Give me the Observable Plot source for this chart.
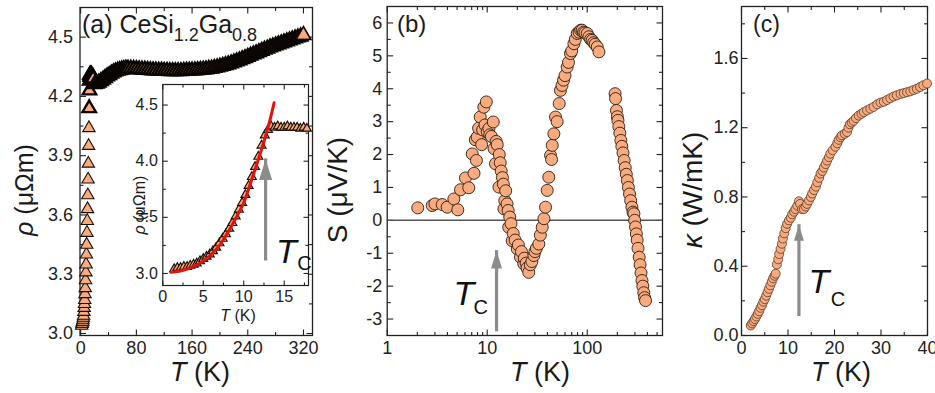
<!DOCTYPE html>
<html><head><meta charset="utf-8">
<script src="https://cdn.jsdelivr.net/npm/d3@7"></script>
<script src="https://cdn.jsdelivr.net/npm/@observablehq/plot@0.6"></script>
<style>
html,body{margin:0;padding:0;background:#fff;}
#fig{position:relative;width:935px;height:393px;overflow:hidden;font-family:"Liberation Sans",Arial,Helvetica,sans-serif;color:#1a1a1a;background:#fff;}
.lab{position:absolute;white-space:nowrap;line-height:1;}
.c{transform:translate(-50%,-50%);}
.r{transform:translate(-50%,-50%) rotate(-90deg);}
.sb{font-size:0.72em;position:relative;top:0.42em;}
i{font-style:italic;}
</style></head><body><div id="fig"></div>
<script>
// ---------- data ----------
// (a) inset / low-T resistivity (T in K, rho in micro-ohm m)
const inT   = [1.4,1.8,2.2,2.6,3.0,3.4,3.8,4.2,4.6,5.0,5.4,5.8,6.2,6.6,7.0,7.4,7.8,8.2,8.6,9.0,9.4,9.8,10.2,10.6,11.0,11.4,11.8,12.2,12.6,13.0,13.4,13.8,14.2,14.6,15.0,15.4,15.8,16.2,16.6,17.0,17.4,17.8];
const inRho = [3.04,3.05,3.05,3.06,3.06,3.07,3.08,3.09,3.11,3.13,3.15,3.17,3.20,3.23,3.27,3.31,3.35,3.40,3.45,3.51,3.57,3.63,3.70,3.78,3.86,3.95,4.04,4.14,4.23,4.28,4.31,4.30,4.31,4.30,4.30,4.31,4.30,4.30,4.30,4.29,4.30,4.29];
// (a) fit curve in inset
const fitT   = [1,2,3,4,5,6,7,8,9,10,11,12,13,13.75];
const fitRho = [3.01,3.02,3.04,3.07,3.11,3.17,3.25,3.36,3.49,3.63,3.84,4.06,4.30,4.52];
// (a) high-T resistivity
const hiT   = [20,23,26,29,32,35,38,41,44,47,50,53,56,59,62,65,68,72,76,80,84,88,92,96,100,104,108,112,116,120,124,128,132,136,140,144,148,152,156,160,164,168,172,176,180,184,188,192,196,200,204,208,212,216,220,224,228,232,236,240,244,248,252,256,260,264,268,272,276,280,284,288,292,296,300,304,308,312,316,320];
const hiRho = [4.262,4.265,4.27,4.277,4.285,4.293,4.301,4.308,4.315,4.321,4.326,4.330,4.333,4.336,4.338,4.340,4.340,4.340,4.339,4.338,4.337,4.336,4.335,4.334,4.333,4.332,4.331,4.330,4.330,4.329,4.329,4.328,4.328,4.328,4.328,4.328,4.329,4.330,4.330,4.331,4.332,4.333,4.334,4.335,4.337,4.339,4.341,4.344,4.347,4.350,4.354,4.358,4.362,4.367,4.372,4.377,4.382,4.388,4.394,4.400,4.406,4.412,4.418,4.424,4.430,4.436,4.442,4.448,4.453,4.458,4.463,4.468,4.473,4.478,4.483,4.488,4.493,4.498,4.503,4.510];
// (b) thermopower S (microV/K)
const bT = [2.02,2.82,3.0,3.55,3.98,4.64,5.08,5.41,6.06,6.54,7.08,7.38,7.6,7.8,7.94,8.2,8.51,8.8,9.0,9.26,9.5,9.8,10.0,10.4,10.6,11.0,11.5,11.7,12.1,12.3,12.6,13.1,13.2,13.5,13.8,14.2,14.5,14.7,15.0,15.3,15.8,16.2,16.4,16.8,17.3,17.8,18.2,19,20,20.5,21.5,22,23.2,23.5,24.5,25,26,27,28,29.3,30,31,32.8,34,35.5,36.9,38.3,39.8,41.3,43,44,44.7,46.4,48.2,50,52.5,54,56,58,60,63,65,68,70,73.6,76,79.4,83,86,89,92,95,100,104,108,112,116,120,126,131,190,192,196,200,203,207,212,217,222,228,234,240,246,252,258,265,272,280,287,293,298,304,310,316,322,331,338,345,353,360,368,375,383];
const bS = [0.38,0.45,0.5,0.48,0.40,0.65,0.32,0.93,1.29,0.99,2.02,1.43,2.45,1.82,2.53,2.8,3.14,2.3,2.75,3.44,2.9,3.6,2.7,2.79,2.6,2.55,2.99,2.18,1.72,2.4,2.3,1.01,2.0,1.75,1.5,1.3,1.1,0.35,0.6,0.9,0.5,0.3,-0.21,0.1,-0.1,-0.62,-0.4,-0.6,-0.87,-0.75,-1.12,-0.95,-1.32,-1.15,-1.3,-1.45,-1.58,-1.35,-1.25,-1.07,-0.95,-0.85,-0.72,-0.45,-0.21,0.05,0.4,0.91,1.31,1.97,1.85,2.28,2.63,3.14,3.0,3.55,3.95,4.1,4.26,4.4,4.66,4.8,5.07,5.15,5.37,5.5,5.68,5.72,5.78,5.78,5.72,5.7,5.68,5.58,5.5,5.47,5.4,5.35,5.27,5.12,3.85,3.7,3.34,3.15,3.04,2.85,2.65,2.43,2.25,2.05,1.82,1.6,1.4,1.21,1.0,0.8,0.6,0.4,0.25,0.2,0.0,-0.2,-0.41,-0.6,-0.85,-1.12,-1.35,-1.6,-1.83,-2.0,-2.2,-2.35,-2.44];
// (c) thermal conductivity kappa (W/mK)
const cT = [2.0,2.3,2.6,2.9,3.2,3.5,3.8,4.1,4.4,4.7,5.0,5.3,5.6,5.9,6.2,6.5,6.8,7.1,7.35,7.6,7.9,8.1,8.4,8.7,8.9,9.2,9.5,9.8,10.2,10.6,10.9,11.3,11.6,12.0,12.35,12.6,13.0,13.4,13.8,14.1,14.5,14.9,15.2,15.6,16.0,16.3,16.7,17.0,17.4,17.7,18.1,18.4,18.8,19.1,19.6,20.2,20.6,20.9,21.3,21.6,22.2,22.7,23.0,23.3,23.7,24.1,24.6,25.2,25.8,26.3,27.0,27.7,28.4,29.2,29.9,30.6,31.3,32.0,32.7,33.4,34.2,34.9,35.6,36.3,37.0,37.7,38.4,39.1,39.9];
const cK = [0.058,0.07,0.083,0.095,0.11,0.125,0.14,0.16,0.175,0.195,0.21,0.23,0.25,0.27,0.29,0.31,0.33,0.345,0.357,0.41,0.44,0.47,0.50,0.53,0.56,0.59,0.62,0.645,0.665,0.68,0.70,0.715,0.73,0.75,0.775,0.76,0.73,0.73,0.745,0.76,0.78,0.80,0.82,0.84,0.86,0.885,0.91,0.935,0.95,0.97,0.99,1.01,1.03,1.05,1.07,1.09,1.11,1.13,1.145,1.156,1.165,1.175,1.20,1.22,1.23,1.24,1.255,1.27,1.28,1.29,1.30,1.31,1.32,1.335,1.345,1.35,1.36,1.37,1.38,1.387,1.395,1.40,1.405,1.41,1.418,1.425,1.435,1.445,1.455];
// T_C annotations: arrow x, arrow bottom, arrow tip
const tcInset = [{x: 12.7, lo: 3.28, hi: 4.02}];
const tcB     = [{x: 12.4, lo: -2.9, hi: -0.92}];
const tcC     = [{x: 12.35, lo: 0.19, hi: 0.64}];
// T_C label anchors (T glyph, C subscript)
const tcInsetLab = [{x: 14.0, y: 3.09, sx: 16.6, sy: 3.03}];
const tcBLab     = [{x: 4.6, y: -2.57, sx: 7.3, sy: -2.85}];
const tcCLab     = [{x: 14.4, y: 0.243, sx: 19.2, sy: 0.173}];

// ---------- helpers ----------
const FONT = "'Liberation Sans', Arial, Helvetica, sans-serif";
const PEACH = "#F8AB7E", EDGE = "#2e1c12", INK = "#222", GRAY = "#8c8c8c", RED = "#e3120b";
const zip = (xs, ys, kx, ky) => xs.map((v, i) => ({[kx]: v, [ky]: ys[i]}));
const seg = (dx, dy) => ({draw(ctx) { ctx.moveTo(0, 0); ctx.lineTo(dx, dy); }});
const head = (w, h) => ({draw(ctx) { ctx.moveTo(0, 0); ctx.lineTo(-w / 2, h); ctx.lineTo(w / 2, h); ctx.closePath(); }});
function frameTicks(xd, yd, xMaj, xMin, yMaj, yMin, L = 6, l = 3.5) {
  const o = {stroke: INK, strokeWidth: 1.1, fill: "none"};
  return [
    Plot.dot(xMaj, {x: d => d, y: yd[0], symbol: seg(0, -L), ...o}),
    Plot.dot(xMaj, {x: d => d, y: yd[1], symbol: seg(0, L), ...o}),
    Plot.dot(xMin, {x: d => d, y: yd[0], symbol: seg(0, -l), ...o}),
    Plot.dot(xMin, {x: d => d, y: yd[1], symbol: seg(0, l), ...o}),
    Plot.dot(yMaj, {x: xd[0], y: d => d, symbol: seg(L, 0), ...o}),
    Plot.dot(yMaj, {x: xd[1], y: d => d, symbol: seg(-L, 0), ...o}),
    Plot.dot(yMin, {x: xd[0], y: d => d, symbol: seg(l, 0), ...o}),
    Plot.dot(yMin, {x: xd[1], y: d => d, symbol: seg(-l, 0), ...o})
  ];
}
function tcMarks(arrow, lab, big, small, headW, headH) {
  return [
    Plot.ruleX(arrow, {x: "x", y1: "lo", y2: "hi", stroke: GRAY, strokeWidth: 3.2, insetTop: headH - 2}),
    Plot.dot(arrow, {x: "x", y: "hi", symbol: head(headW, headH), fill: GRAY, stroke: "none"}),
    Plot.text(lab, {x: "x", y: "y", text: () => "T", fontSize: big, fontStyle: "italic", textAnchor: "start", lineAnchor: "bottom", fill: "#111"}),
    Plot.text(lab, {x: "sx", y: "sy", text: () => "C", fontSize: small, textAnchor: "start", lineAnchor: "bottom", fill: "#111"})
  ];
}
const baseStyle = (fs) => ({background: "transparent", fontFamily: FONT, fontSize: fs + "px", color: INK, overflow: "visible"});
const fig = document.getElementById("fig");
function place(el, left, top) { el.style.position = "absolute"; el.style.left = left + "px"; el.style.top = top + "px"; fig.appendChild(el); }
function label(html, x, y, fs, cls) { const d = document.createElement("div"); d.className = "lab " + cls; d.style.left = x + "px"; d.style.top = y + "px"; d.style.fontSize = fs + "px"; d.innerHTML = html; fig.appendChild(d); }
const f1 = d => d.toFixed(1), fi = d => String(d);

// ---------- panel (a) main ----------
const aX = [-1, 333], aY = [2.99, 4.65];
const lowA = zip(inT, inRho, "T", "rho").filter(d => d.T < 13);
const bandA = zip(inT, inRho, "T", "rho").filter(d => d.T >= 12.2).concat(zip(hiT, hiRho, "T", "rho"));
place(Plot.plot({
  width: 320, height: 393, marginLeft: 79.5, marginRight: 8, marginTop: 7, marginBottom: 58,
  x: {domain: aX}, y: {domain: aY}, style: baseStyle(18),
  marks: [
    Plot.frame({stroke: INK, strokeWidth: 1.3}),
    ...frameTicks(aX, aY, [0, 80, 160, 240, 320], [40, 120, 200, 280], [3.0, 3.3, 3.6, 3.9, 4.2, 4.5], [3.15, 3.45, 3.75, 4.05, 4.35]),
    Plot.axisX({ticks: [0, 80, 160, 240, 320], tickSize: 0, tickPadding: 6, tickFormat: fi, label: null}),
    Plot.axisY({ticks: [3.0, 3.3, 3.6, 3.9, 4.2, 4.5], tickSize: 0, tickPadding: 7, tickFormat: f1, label: null}),
    Plot.dot(lowA, {x: "T", y: "rho", symbol: "triangle", r: 4.6, fill: PEACH, stroke: "#1a100a", strokeWidth: 1.1}),
    Plot.dot(bandA, {x: "T", y: "rho", symbol: "triangle", r: 5, fill: PEACH, stroke: "#0a0604", strokeWidth: 2.4}),
    Plot.dot(bandA.slice(-1), {x: "T", y: "rho", symbol: "triangle", r: 5, fill: PEACH, stroke: "#1a100a", strokeWidth: 1})
  ]
}), 0, 0);

// ---------- panel (a) inset ----------
const iX = [0, 18], iY = [2.893, 4.683];
place(Plot.plot({
  width: 195, height: 260, marginLeft: 42.3, marginRight: 7, marginTop: 14, marginBottom: 45,
  x: {domain: iX}, y: {domain: iY}, style: baseStyle(16),
  marks: [
    Plot.frame({fill: "white", stroke: INK, strokeWidth: 1.2}),
    ...frameTicks(iX, iY, [0, 5, 10, 15], [2.5, 7.5, 12.5, 17.5], [3.0, 3.5, 4.0, 4.5], [3.25, 3.75, 4.25], 5, 3),
    Plot.axisX({ticks: [0, 5, 10, 15], tickSize: 0, tickPadding: 5, tickFormat: fi, label: null}),
    Plot.axisY({ticks: [3.0, 3.5, 4.0, 4.5], tickSize: 0, tickPadding: 5, tickFormat: f1, label: null}),
    Plot.dot(zip(inT, inRho, "T", "rho"), {x: "T", y: "rho", symbol: "triangle", r: 3.3, fill: PEACH, stroke: "#1a100a", strokeWidth: 1.2}),
    Plot.line(zip(fitT, fitRho, "T", "rho"), {x: "T", y: "rho", stroke: RED, strokeWidth: 3, curve: "catmull-rom"}),
    ...tcMarks(tcInset, tcInsetLab, 34, 20, 13, 21)
  ]
}), 120, 70);

// ---------- panel (b) ----------
const bX = [1, 566], bY = [-3.5, 6.5];
const minorLog = [2,3,4,5,6,7,8,9,20,30,40,50,60,70,80,90,200,300,400,500];
place(Plot.plot({
  width: 360, height: 393, marginLeft: 76.7, marginRight: 8, marginTop: 6, marginBottom: 58,
  x: {type: "log", domain: bX}, y: {domain: bY}, style: baseStyle(18),
  marks: [
    Plot.frame({stroke: INK, strokeWidth: 1.3}),
    ...frameTicks(bX, bY, [1, 10, 100], minorLog, [-3,-2,-1,0,1,2,3,4,5,6], [-2.5,-1.5,-0.5,0.5,1.5,2.5,3.5,4.5,5.5]),
    Plot.axisX({ticks: [1, 10, 100], tickSize: 0, tickPadding: 6, tickFormat: fi, label: null}),
    Plot.axisY({ticks: [-3,-2,-1,0,1,2,3,4,5,6], tickSize: 0, tickPadding: 5, tickFormat: fi, label: null}),
    Plot.ruleY([0], {stroke: "#555", strokeWidth: 1.5}),
    Plot.dot(zip(bT, bS, "T", "S"), {x: "T", y: "S", r: 6, fill: PEACH, stroke: EDGE, strokeWidth: 0.9}),
    ...tcMarks(tcB, tcBLab, 34, 20, 11, 18)
  ]
}), 310, 0);

// ---------- panel (c) ----------
const cX = [0, 40], cY = [0, 1.9];
place(Plot.plot({
  width: 255, height: 393, marginLeft: 61, marginRight: 8, marginTop: 6, marginBottom: 58,
  x: {domain: cX}, y: {domain: cY}, style: baseStyle(18),
  marks: [
    Plot.frame({stroke: INK, strokeWidth: 1.3}),
    ...frameTicks(cX, cY, [0, 10, 20, 30, 40], [5, 15, 25, 35], [0, 0.4, 0.8, 1.2, 1.6], [0.2, 0.6, 1.0, 1.4, 1.8]),
    Plot.axisX({ticks: [0, 10, 20, 30, 40], tickSize: 0, tickPadding: 6, tickFormat: fi, label: null}),
    Plot.axisY({ticks: [0, 0.4, 0.8, 1.2, 1.6], tickSize: 0, tickPadding: 3, tickFormat: f1, label: null}),
    Plot.dot(zip(cT, cK, "T", "k"), {x: "T", y: "k", r: 4.5, fill: PEACH, stroke: "#5a3a26", strokeWidth: 0.8}),
    ...tcMarks(tcC, tcCLab, 34, 20, 10, 16)
  ]
}), 680, 0);

// ---------- text labels ----------
label("(a) CeSi<span class='sb'>1.2</span>Ga<span class='sb'>0.8</span>", 82, 12, 25, "");
label("(b)", 397, 12, 24, "");
label("(c)", 753, 13, 23, "");
label("<i>ρ</i> (μΩm)", 24, 190, 25, "r");
label("<i>ρ</i> (μΩm)", 140, 205, 16, "r");
label("<i>T</i> (K)", 238, 316, 16, "c");
label("<i>T</i> (K)", 200, 372, 27, "c");
label("S (μV/K)", 338, 190, 28, "r");
label("<i>T</i> (K)", 540, 372, 27, "c");
label("<i>κ</i> (W/mK)", 693, 190, 28, "r");
label("<i>T</i> (K)", 841, 372, 27, "c");
</script></body></html>
